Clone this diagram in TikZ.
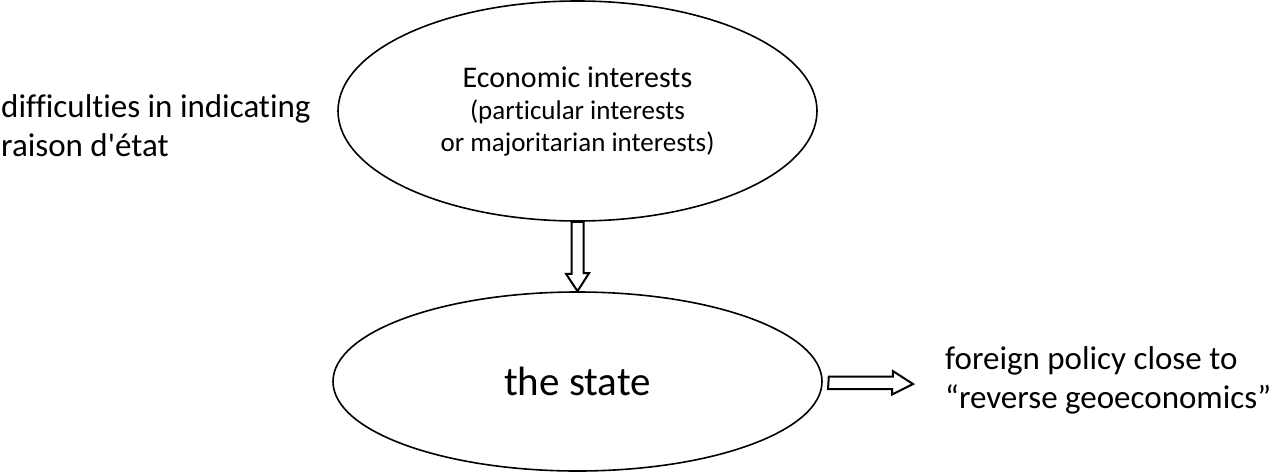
\documentclass[tikz,border=0pt]{standalone}
\usepackage{fontspec}
\setmainfont{Carlito}[Ligatures={TeX,NoCommon}]
\usepackage{tikz}
\usetikzlibrary{shapes.geometric,calc}

\tikzset{
bubble/.style={ellipse, draw, line width=1.6pt, inner sep=0pt},
fat/.style={draw, line width=2pt, line join=miter},
side/.style={align=left, inner sep=0pt, font=\fontsize{33}{39}\selectfont}
}

\begin{document}
\begin{tikzpicture}[x=1pt,y=-1pt]
\useasboundingbox (0,0) rectangle (1273,474);
\node[bubble, minimum width=479pt, minimum height=220pt, align=center,
  font=\fontsize{27}{32}\selectfont] (eco) at (577.5,111)
  {{\fontsize{30}{32}\selectfont Economic interests}\\(particular interests\\or majoritarian interests)};
\node[bubble, minimum width=489pt, minimum height=179pt,
  font=\fontsize{41}{48}\selectfont] (state) at (577.5,381.5) {the state};
\node[side, anchor=west] (raison) at (1,126) {difficulties in indicating\\raison d\textquotesingle\'etat};
\node[side, anchor=west] (policy) at (945,380) {foreign policy close to\\``reverse geoeconomics''};
% block arrows
\draw[fat] ($(eco.south)+(-6,0)$) -- ++(0,52) -- ++(-5.5,0) -- (state.north)
  -- ++(11.5,-18) -- ++(-5.5,0) -- ($(eco.south)+(6,0)$) -- cycle;
\coordinate (tip) at (913,384);
\draw[fat] ($(state.east)+(6,-5)$) -- ++(64,0) -- ++(0,-5.5) -- (tip)
  -- ++(-21,10.5) -- ++(0,-5.5) -- ++(-64,0) -- cycle;
\end{tikzpicture}
\end{document}
